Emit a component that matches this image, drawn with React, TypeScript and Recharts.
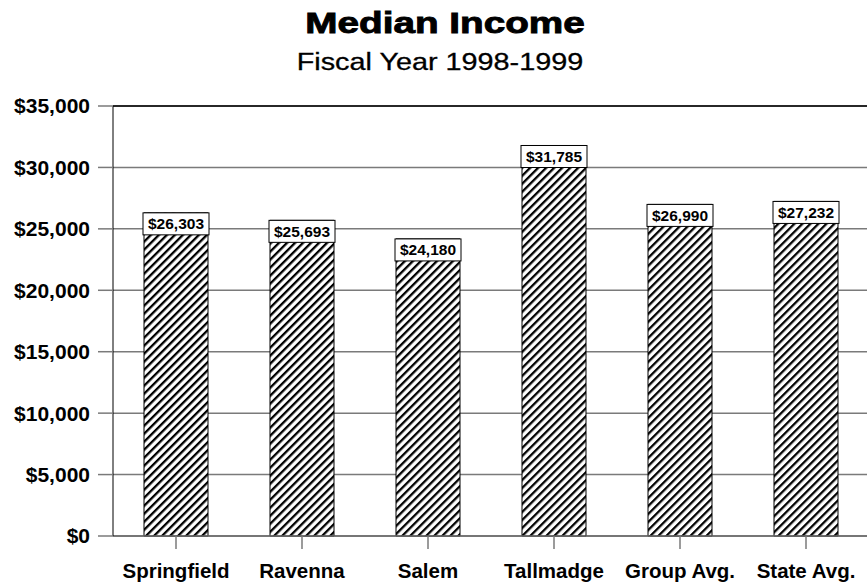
import React from 'react';
import {
  BarChart,
  Bar,
  XAxis,
  YAxis,
  CartesianGrid,
  LabelList,
  ReferenceLine
} from 'recharts';

const categories = ['Springfield', 'Ravenna', 'Salem', 'Tallmadge', 'Group Avg.', 'State Avg.'];
const incomes = [26303, 25693, 24180, 31785, 26990, 27232];
const yTicks = [0, 5000, 10000, 15000, 20000, 25000, 30000, 35000];

const FONT = '"Liberation Sans", Arial, Helvetica, sans-serif';

const formatDollar = (v: number) => '$' + v.toLocaleString('en-US');

// value box sitting on top of each bar
const ValueBox = (props: any) => {
  const { x, y, width, value } = props;
  return (
    <g>
      <rect x={x - 1} y={y} width={width + 2} height={22} fill="#fff" stroke="#000" strokeWidth={1} />
      <text
        x={x + width / 2}
        y={y + 16.5}
        textAnchor="middle"
        fontFamily={FONT}
        fontWeight="bold"
        fontSize={15.5}
        fill="#000"
      >
        {formatDollar(value)}
      </text>
    </g>
  );
};

const App = () => {
  const chartData = categories.map((name, i) => ({ name, income: incomes[i] }));

  return (
    <div style={{ position: 'absolute', left: 0, top: 0, width: 867, height: 583, overflow: 'hidden', background: '#fff' }}>
      <BarChart
        width={869}
        height={583}
        data={chartData}
        margin={{ top: 106, right: 0, bottom: 0, left: 0 }}
        barSize={64}
      >
        <defs>
          <pattern
            id="hatch"
            patternUnits="userSpaceOnUse"
            width={5.66}
            height={5.66}
            patternTransform="rotate(45)"
          >
            <rect width={5.66} height={5.66} fill="#fff" />
            <rect width={2.3} height={5.66} fill="#000" />
          </pattern>
        </defs>
        <CartesianGrid horizontal vertical={false} stroke="#7a7a7a" strokeWidth={1.5} />
        <XAxis
          dataKey="name"
          height={47}
          interval={0}
          axisLine={{ stroke: '#6a6a6a', strokeWidth: 1.5 }}
          tickLine={{ stroke: '#7a7a7a', strokeWidth: 1.5 }}
          tickSize={13}
          tickMargin={14}
          tick={{ fill: '#000', fontFamily: FONT, fontWeight: 'bold', fontSize: 20.5 }}
        />
        <YAxis
          width={113}
          domain={[0, 35000]}
          ticks={yTicks}
          interval={0}
          tickFormatter={formatDollar}
          axisLine={{ stroke: '#000', strokeWidth: 1 }}
          tickLine={{ stroke: '#7a7a7a', strokeWidth: 1.5 }}
          tickSize={15}
          tickMargin={8}
          tick={{ fill: '#000', fontFamily: FONT, fontWeight: 'bold', fontSize: 21 }}
        />
        <ReferenceLine y={35000} stroke="#000" strokeWidth={1.5} />
        <Bar dataKey="income" fill="url(#hatch)" stroke="#000" strokeWidth={1} isAnimationActive={false}>
          <LabelList dataKey="income" content={ValueBox} />
        </Bar>
      </BarChart>
      <svg width={867} height={100} style={{ position: 'absolute', left: 0, top: 0 }}>
        {/* wide heavy face in the original, approximated by stretching */}
        <text
          transform="translate(445,33) scale(1.29,1)"
          textAnchor="middle"
          fontFamily={FONT}
          fontWeight="bold"
          fontSize={30}
          stroke="#000"
          strokeWidth={0.9}
        >
          Median Income
        </text>
        <text
          transform="translate(440,70) scale(1.2,1)"
          textAnchor="middle"
          fontFamily={FONT}
          fontSize={24}
          stroke="#000"
          strokeWidth={0.3}
        >
          Fiscal Year 1998-1999
        </text>
      </svg>
    </div>
  );
};

export default App;
